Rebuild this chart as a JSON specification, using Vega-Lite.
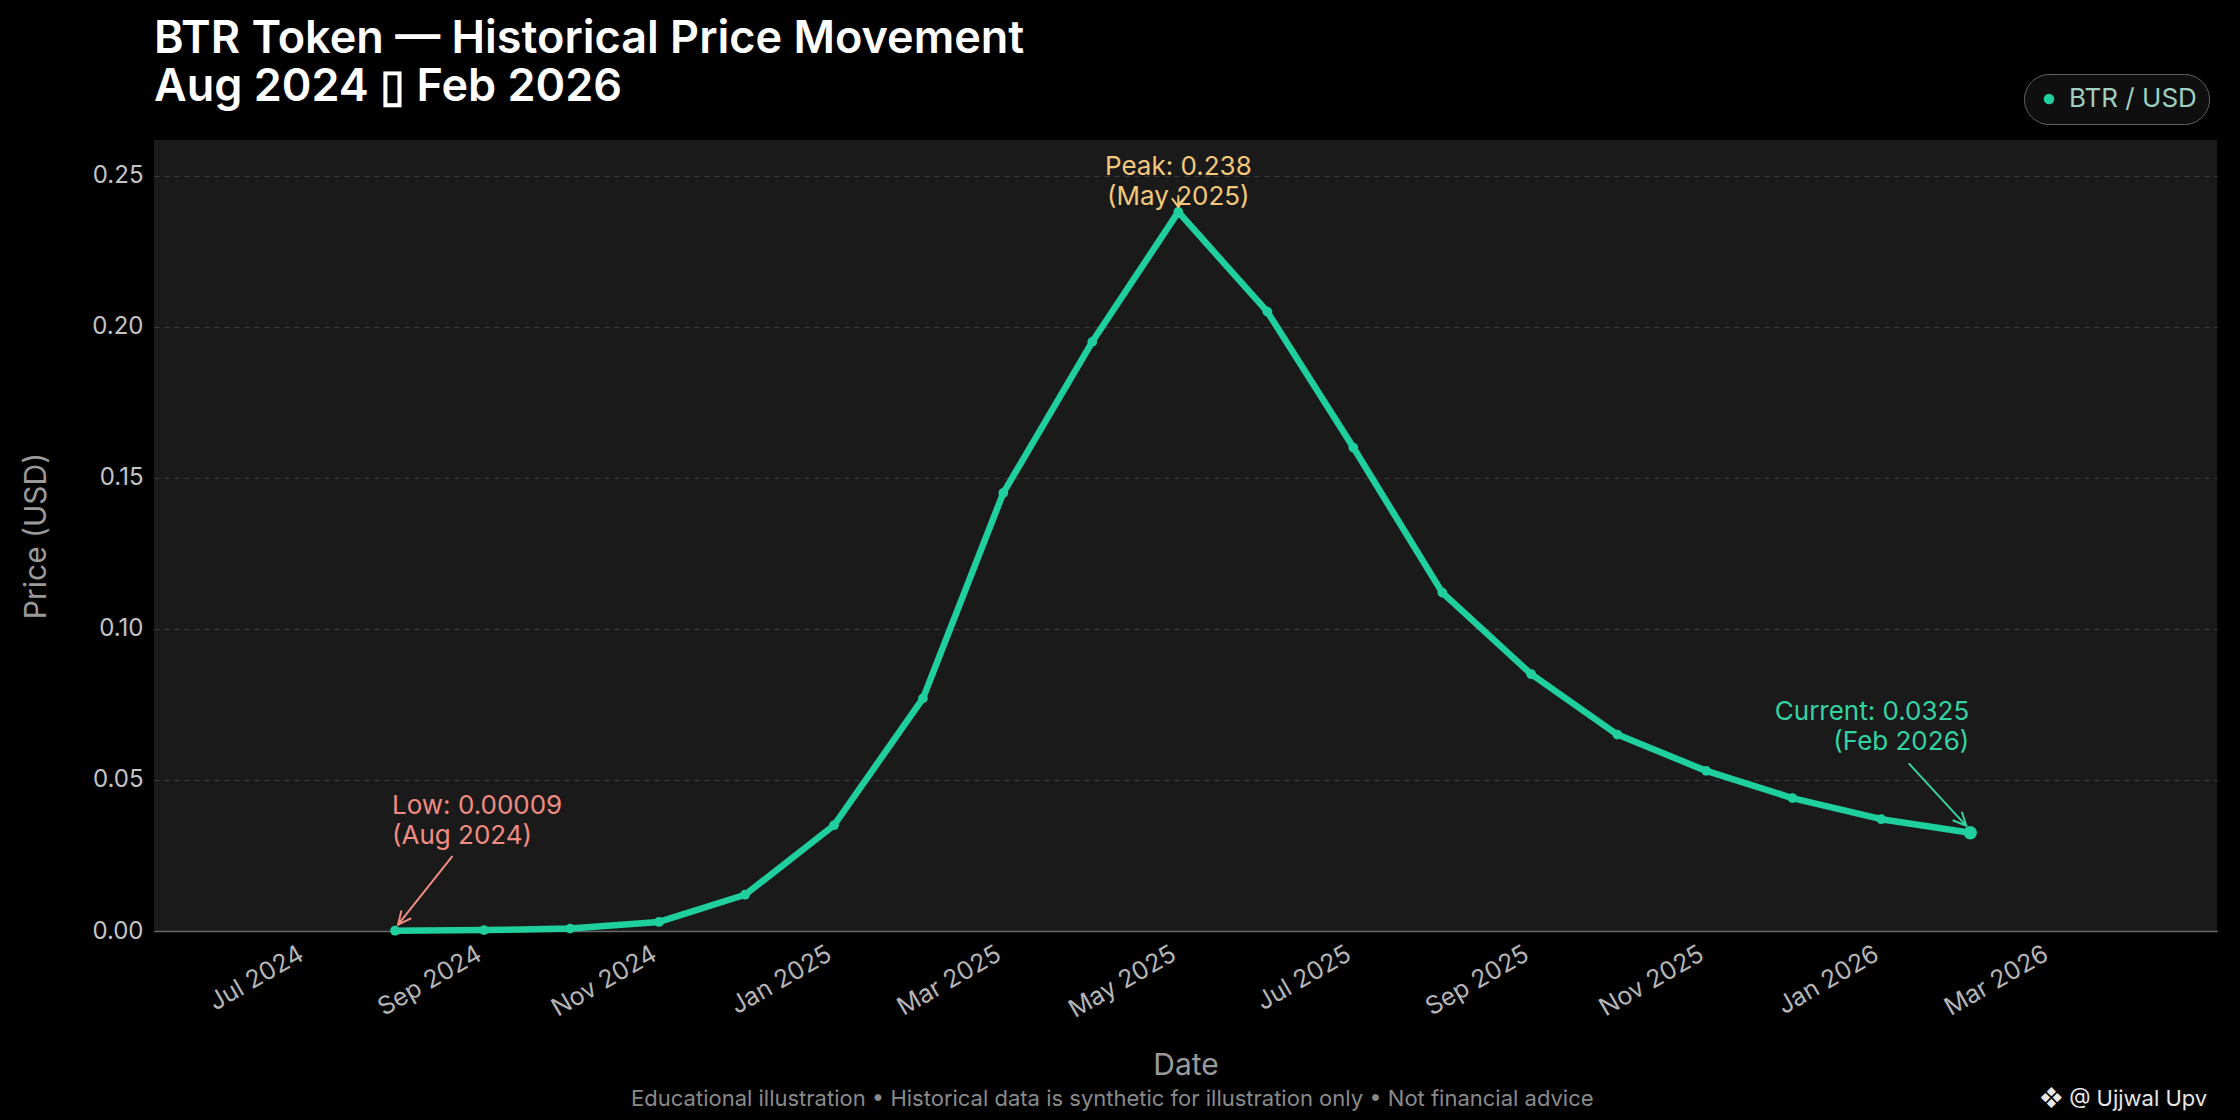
{
  "$schema": "https://vega.github.io/schema/vega-lite/v6.json",
  "width": 2063,
  "height": 791,
  "autosize": {"type": "none"},
  "padding": {"left": 154, "top": 140, "right": 23, "bottom": 189},
  "background": "#000000",
  "title": {
    "text": ["BTR Token — Historical Price Movement", "Aug 2024 ▯ Feb 2026"],
    "anchor": "start",
    "frame": "group",
    "font": "Inter",
    "fontSize": 45,
    "fontWeight": 600,
    "color": "#ffffff",
    "lineHeight": 48,
    "baseline": "bottom",
    "offset": -81
  },
  "datasets": {
    "prices": [
      {"date": "2024-08-01", "price": 0.00009},
      {"date": "2024-09-01", "price": 0.0003},
      {"date": "2024-10-01", "price": 0.0008},
      {"date": "2024-11-01", "price": 0.003},
      {"date": "2024-12-01", "price": 0.012},
      {"date": "2025-01-01", "price": 0.035},
      {"date": "2025-02-01", "price": 0.077},
      {"date": "2025-03-01", "price": 0.145},
      {"date": "2025-04-01", "price": 0.195},
      {"date": "2025-05-01", "price": 0.238},
      {"date": "2025-06-01", "price": 0.205},
      {"date": "2025-07-01", "price": 0.16},
      {"date": "2025-08-01", "price": 0.112},
      {"date": "2025-09-01", "price": 0.085},
      {"date": "2025-10-01", "price": 0.065},
      {"date": "2025-11-01", "price": 0.053},
      {"date": "2025-12-01", "price": 0.044},
      {"date": "2026-01-01", "price": 0.037},
      {"date": "2026-02-01", "price": 0.0325}
    ],
    "notes": [
      {"kind": "low", "date": "2024-08-01", "price": 0.00009, "label": "Low: 0.00009\n(Aug 2024)"},
      {"kind": "peak", "date": "2025-05-01", "price": 0.238, "label": "Peak: 0.238\n(May 2025)"},
      {"kind": "current", "date": "2026-02-01", "price": 0.0325, "label": "Current: 0.0325\n(Feb 2026)"}
    ]
  },
  "encoding": {
    "x": {
      "field": "date",
      "type": "temporal",
      "scale": {
        "type": "utc",
        "domain": [
          {"year": 2024, "month": 5, "date": 9, "utc": true},
          {"year": 2026, "month": 4, "date": 28, "utc": true}
        ]
      },
      "axis": {
        "title": "Date",
        "format": "%b %Y",
        "tickCount": {"interval": "month", "step": 2},
        "labelAngle": -30,
        "labelAlign": "right",
        "labelBaseline": "top",
        "labelFontSize": 25,
        "labelColor": "#b5b5b5",
        "labelPadding": 10,
        "labelOffset": -11,
        "labelOverlap": false,
        "domainColor": "#6a6a6a",
        "domainWidth": 1.5,
        "ticks": false,
        "grid": false,
        "titleFontSize": 30,
        "titleFontWeight": "normal",
        "titleColor": "#9a9a9a",
        "titlePadding": 28
      }
    },
    "y": {
      "field": "price",
      "type": "quantitative",
      "scale": {"domain": [0, 0.2618], "nice": false, "zero": true},
      "axis": {
        "title": "Price (USD)",
        "values": [0, 0.05, 0.1, 0.15, 0.2, 0.25],
        "format": ".2f",
        "labelFontSize": 24,
        "labelColor": "#c4c4c4",
        "labelPadding": 11,
        "domain": false,
        "ticks": false,
        "grid": true,
        "gridColor": "#3c3c3c",
        "gridDash": [5, 5],
        "gridWidth": 1,
        "titleFontSize": 30,
        "titleFontWeight": "normal",
        "titleColor": "#9a9a9a",
        "titlePadding": 40
      }
    }
  },
  "layer": [
    {
      "data": {"name": "prices"},
      "mark": {"type": "line", "color": "#1fcf9e", "strokeWidth": 6.5, "strokeCap": "round", "strokeJoin": "round"}
    },
    {
      "data": {"name": "prices"},
      "mark": {"type": "point", "filled": true, "size": 95, "opacity": 1},
      "encoding": {
        "color": {
          "datum": "BTR / USD",
          "type": "nominal",
          "scale": {"range": ["#1fcf9e"]},
          "legend": {
            "orient": "none",
            "legendX": 1870,
            "legendY": -66,
            "title": null,
            "fillColor": "#0f0f0f",
            "strokeColor": "#626262",
            "cornerRadius": 25,
            "padding": 12,
            "labelFont": "Inter",
            "labelFontSize": 26,
            "labelColor": "#9fcfc1",
            "labelOffset": 7,
            "symbolType": "circle",
            "symbolSize": 110,
            "symbolStrokeWidth": 0
          }
        }
      }
    },
    {
      "data": {"name": "notes"},
      "transform": [{"filter": "datum.kind === 'current'"}],
      "mark": {"type": "circle", "size": 180, "opacity": 1, "color": "#1fcf9e"}
    },
    {
      "data": {"name": "notes"},
      "transform": [{"filter": "datum.kind === 'low'"}],
      "mark": {"type": "text", "align": "left", "baseline": "top", "dx": -3, "dy": -137.5, "color": "#f08c82", "font": "Inter", "fontSize": 26, "lineBreak": "\n", "lineHeight": 30},
      "encoding": {"text": {"field": "label"}}
    },
    {
      "data": {"name": "notes"},
      "transform": [{"filter": "datum.kind === 'peak'"}],
      "mark": {"type": "text", "align": "center", "baseline": "top", "dy": -57.5, "color": "#f3c87a", "font": "Inter", "fontSize": 26, "lineBreak": "\n", "lineHeight": 30},
      "encoding": {"text": {"field": "label"}}
    },
    {
      "data": {"name": "notes"},
      "transform": [{"filter": "datum.kind === 'current'"}],
      "mark": {"type": "text", "align": "right", "baseline": "top", "dx": -1, "dy": -133.5, "color": "#35d3a3", "font": "Inter", "fontSize": 26, "lineBreak": "\n", "lineHeight": 30},
      "encoding": {"text": {"field": "label"}}
    },
    {
      "data": {"name": "notes"},
      "transform": [{"filter": "datum.kind === 'low'"}],
      "mark": {"type": "point", "shape": "M57,-74L3,-6M15.5,-12.2L3,-6L6.3,-19.6", "size": 4, "filled": false, "opacity": 1, "stroke": "#f08c82", "strokeWidth": 2, "strokeCap": "round"}
    },
    {
      "data": {"name": "notes"},
      "transform": [{"filter": "datum.kind === 'peak'"}],
      "mark": {"type": "point", "shape": "M-6,-13L0,-5L6,-13M0,-16L0,-5", "size": 4, "filled": false, "opacity": 1, "stroke": "#f3c87a", "strokeWidth": 2, "strokeCap": "round"}
    },
    {
      "data": {"name": "notes"},
      "transform": [{"filter": "datum.kind === 'current'"}],
      "mark": {"type": "point", "shape": "M-61,-69L-4,-7M-8.2,-20.3L-4,-7L-16.9,-12.3", "size": 4, "filled": false, "opacity": 1, "stroke": "#35d3a3", "strokeWidth": 2, "strokeCap": "round"}
    },
    {
      "data": {"name": "notes"},
      "transform": [{"filter": "datum.kind === 'peak'"}],
      "mark": {"type": "text", "align": "center", "baseline": "middle", "dx": -66, "color": "#8a8a8a", "font": "Inter", "fontSize": 22},
      "encoding": {
        "y": {"datum": -0.0555, "type": "quantitative"},
        "text": {"value": "Educational illustration • Historical data is synthetic for illustration only • Not financial advice"}
      }
    },
    {
      "data": {"name": "notes"},
      "transform": [{"filter": "datum.kind === 'current'"}],
      "mark": {"type": "text", "align": "right", "baseline": "middle", "dx": 237, "color": "#e6e6e6", "font": "Inter", "fontSize": 22},
      "encoding": {
        "y": {"datum": -0.0555, "type": "quantitative"},
        "text": {"value": "❖ @ Ujjwal Upv"}
      }
    }
  ],
  "config": {
    "font": "Inter",
    "view": {"fill": "#1a1a1a", "stroke": null}
  }
}
